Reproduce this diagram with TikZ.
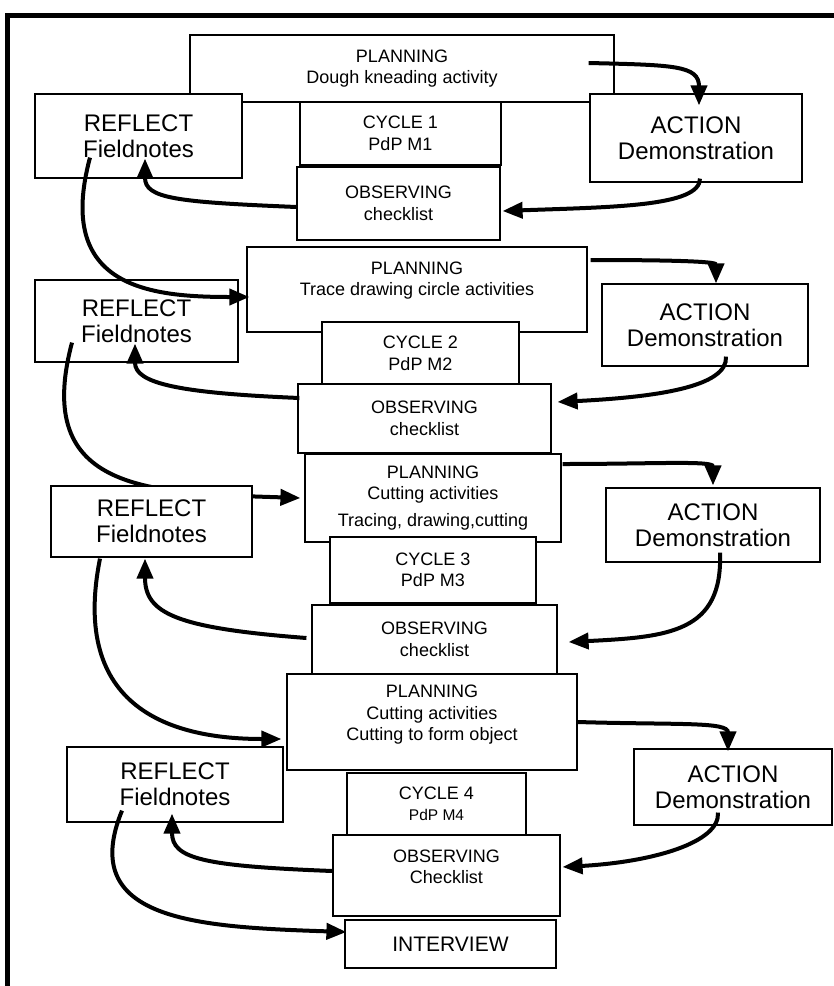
\documentclass[tikz,border=0pt]{standalone}
\usepackage{fontspec}
\setmainfont{Liberation Sans}
\usetikzlibrary{arrows.meta}

\begin{document}
\begin{tikzpicture}[x=1pt, y=-1pt,
		box/.style={draw, fill=white, line width=1.2pt, align=center, inner sep=0pt, font=\fontsize{18}{21.5}\selectfont},
		bigbox/.style={box, font=\fontsize{24}{26}\selectfont},
		flow/.style={line width=4pt, -{Triangle[length=20pt,width=16pt]}}]
		\useasboundingbox (0,0) rectangle (834,986);
		\draw[line width=5pt] (7.5,986) -- (7.5,15.5) -- (834,15.5);

		% cycle 1
		\node (plan1) at (402,68.5) [box, minimum width=424, minimum height=67] {PLANNING\\Dough kneading activity};
		\node (refl1) at (138.5,136) [bigbox, minimum width=207, minimum height=84] {REFLECT\\Fieldnotes};
		\node (cyc1) at (400.5,133.5) [box, minimum width=201, minimum height=63] {CYCLE 1\\PdP M1};
		\node (obs1) at (398.5,203.5) [box, minimum width=203, minimum height=73] {OBSERVING\\checklist};
		\node (act1) at (696,138) [bigbox, minimum width=212, minimum height=88] {ACTION\\Demonstration};
		\draw[flow] ([shift={(-26,-5.5)}]plan1.east) .. controls +(85,2) and +(0,-40) .. ([shift={(3,12)}]act1.north);
		\draw[flow] ([shift={(4,-4)}]act1.south) .. controls +(0,28) and +(110,-4) .. ([shift={(2,7.5)}]obs1.east);
		\draw[flow] ([shift={(0,3.5)}]obs1.west) .. controls +(-120,-5) and +(0,40) .. ([shift={(6.5,-20)}]refl1.south);

		% cycle 2
		\node (plan2) at (417,289.5) [box, minimum width=340, minimum height=85, text depth=22pt] {PLANNING\\Trace drawing circle activities};
		\node (refl2) at (136.5,321) [bigbox, minimum width=203, minimum height=82] {REFLECT\\Fieldnotes};
		\node (cyc2) at (420.5,353.5) [box, minimum width=197, minimum height=63] {CYCLE 2\\PdP M2};
		\node (obs2) at (424.5,418.5) [box, minimum width=253, minimum height=69] {OBSERVING\\checklist};
		\node (act2) at (705,325) [bigbox, minimum width=206, minimum height=82] {ACTION\\Demonstration};
		\draw[flow] ([shift={(-48.5,-21)}]refl1.south) .. controls +(-35,130) and +(-100,0) .. ([shift={(3,7.5)}]plan2.west);
		\draw[flow] ([shift={(3,-29.5)}]plan2.east) .. controls +(80,0) and +(0,-22) .. ([shift={(11,0)}]act2.north);
		\draw[flow] ([shift={(21,-10)}]act2.south) .. controls +(2,30) and +(100,-5) .. ([shift={(6,-16.5)}]obs2.east);
		\draw[flow] ([shift={(2,-20.5)}]obs2.west) .. controls +(-120,-5) and +(0,40) .. ([shift={(-1.5,-19)}]refl2.south);

		% cycle 3
		\node (plan3) at (433,498) [box, minimum width=256, minimum height=88] {PLANNING\\Cutting activities\\[5pt]Tracing, drawing,cutting};
		\draw[flow] ([shift={(-64.5,-20)}]refl2.south) .. controls +(-40,150) and +(-150,-5) .. ([shift={(-4,0)}]plan3.west);
		\node (refl3) at (151.5,521.5) [bigbox, minimum width=201, minimum height=71] {REFLECT\\Fieldnotes};
		\node (cyc3) at (433,570) [box, minimum width=206, minimum height=66] {CYCLE 3\\PdP M3};
		\node (obs3) at (434.5,639.5) [box, minimum width=245, minimum height=69] {OBSERVING\\checklist};
		\node (act3) at (713,525) [bigbox, minimum width=214, minimum height=74] {ACTION\\Demonstration};
		\draw[flow] ([shift={(1,-34)}]plan3.east) .. controls +(90,0) and +(0,-25) .. ([shift={(0,-2)}]act3.north);
		\draw[flow] ([shift={(7,-10)}]act3.south) .. controls +(3,80) and +(100,-5) .. ([shift={(11,2.5)}]obs3.east);
		\draw[flow] ([shift={(-5,-1.5)}]obs3.west) .. controls +(-130,-10) and +(0,55) .. ([shift={(-6.5,1)}]refl3.south);

		% cycle 4
		\node (plan4) at (432,722) [box, minimum width=290, minimum height=96, text depth=18pt] {PLANNING\\Cutting activities\\Cutting to form object};
		\node (refl4) at (175,784.5) [bigbox, minimum width=216, minimum height=75] {REFLECT\\Fieldnotes};
		\node (cyc4) at (436.5,804) [box, minimum width=179, minimum height=62] {CYCLE 4\\{\fontsize{15.5}{18}\selectfont PdP M4}};
		\node (obs4) at (446.5,875.5) [box, minimum width=227, minimum height=81, text depth=18pt] {OBSERVING\\Checklist};
		\node (act4) at (733,787) [bigbox, minimum width=198, minimum height=76] {ACTION\\Demonstration};
		\node (intv) at (450.5,944) [box, minimum width=211, minimum height=48, font=\fontsize{21}{24}\selectfont] {INTERVIEW};
		\draw[flow] ([shift={(-51.5,1)}]refl3.south) .. controls +(-30,150) and +(-110,0) .. ([shift={(-5,17)}]plan4.west);
		\draw[flow] (plan4.east) .. controls +(100,3) and +(0,-30) .. ([shift={(-5,3)}]act4.north);
		\draw[flow] ([shift={(-15,-13)}]act4.south) .. controls +(2,30) and +(90,-5) .. ([shift={(2,-8.5)}]obs4.east);
		\draw[flow] ([shift={(0,-4.5)}]obs4.west) .. controls +(-130,-5) and +(0,45) .. ([shift={(-3,-9)}]refl4.south);
		\draw[flow] ([shift={(-53,-12)}]refl4.south) .. controls +(-45,110) and +(-150,-5) .. ([shift={(2,-12)}]intv.west);
\end{tikzpicture}
\end{document}
